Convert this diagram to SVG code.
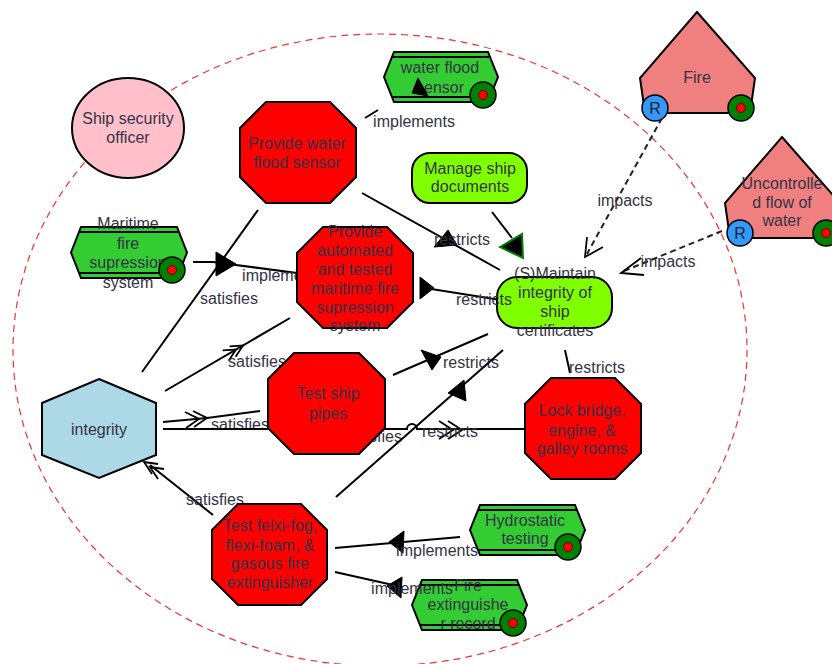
<svg xmlns="http://www.w3.org/2000/svg" width="832" height="664" viewBox="0 0 832 664">
<style>
text{font-family:"Liberation Sans",Arial,sans-serif;font-size:16px;fill:#333344;text-anchor:middle}
.ln{stroke:#000;stroke-width:2;fill:none}
.dl{stroke:#222;stroke-width:2;fill:none;stroke-dasharray:6 4}
.ch{stroke:#000;stroke-width:1.8;fill:none}
.tri{fill:#000;stroke:#000;stroke-width:1}
.oct{fill:#FF0000;stroke:#000;stroke-width:2}
.grn{fill:#33CC33;stroke:#000;stroke-width:2}
.stp{stroke:#000;stroke-width:2}
.lgn{fill:#80FF00;stroke:#000;stroke-width:2}
.pent{fill:#F08080;stroke:#000;stroke-width:2}
.mo{fill:#008000;stroke:#000;stroke-width:1.5}
.mi{fill:#FF0000;stroke:#600;stroke-width:1}
.rb{fill:#3399FF;stroke:#000;stroke-width:1.5}
</style>
<rect width="832" height="664" fill="#fff"/>
<ellipse id="boundary" cx="380" cy="350" rx="367" ry="316" fill="none" stroke="#EE3333" stroke-width="1.2" stroke-dasharray="7 5"/>
<g id="connectors">
<!-- water flood sensor implements -->
<line class="ln" x1="365" y1="118" x2="378" y2="110"/>
<text x="414" y="127">implements</text>
<!-- satisfies integrity -> provide water flood sensor -->
<line class="ln" x1="142" y1="372" x2="258" y2="210"/>
<text x="229" y="304">satisfies</text>
<!-- satisfies integrity -> provide automated -->
<line class="ln" x1="165" y1="391" x2="290" y2="318"/>
<path class="ch" d="M235.6,356.7 L243,345.5 L229.6,346.3 M228.7,360.7 L236,349.5 L222.7,350.3"/>
<text x="257" y="367">satisfies</text>
<!-- satisfies integrity -> test ship pipes -->
<polyline class="ln" points="163,422 207,418 260,411"/>
<path class="ch" d="M193,411 L207,418 L194,427 M185,412 L199,419 L186,428"/>
<text x="240" y="430">satisfies</text>
<!-- integrity -> lock bridge -->
<path class="ln" d="M163,429 L407,429 A5,5 0 0 1 417,429 L525,429"/>
<path class="ch" d="M448,421 L462,430 L448,439 M439,421 L453,430 L439,439"/>
<text x="373" y="442">satisfies</text>
<text x="450" y="437">restricts</text>
<!-- satisfies integrity -> test felxi-fog -->
<line class="ln" x1="150" y1="465" x2="213" y2="515"/>
<path class="ch" d="M152,474 L144,462 L158,464 M158,479 L150,467 L164,469"/>
<text x="215" y="505">satisfies</text>
<!-- restricts maintain -> provide water flood sensor -->
<line class="ln" x1="362" y1="193" x2="500" y2="270"/>
<polygon class="tri" points="434,247 448,230 457,245"/>
<text x="462" y="245">restricts</text>
<!-- manage -> maintain -->
<line class="ln" x1="492" y1="212" x2="512" y2="238"/>
<polygon points="500,247 522,234 523,258" fill="#000" stroke="#008000" stroke-width="2"/>
<!-- restricts maintain -> provide automated -->
<line class="ln" x1="513" y1="302" x2="425" y2="288"/>
<polygon class="tri" points="420,277 434,288 420,299"/>
<!-- restricts test ship pipes -> maintain -->
<line class="ln" x1="393" y1="375" x2="488" y2="334"/>
<polygon class="tri" points="421,350 441,357 432,370"/>
<text x="471" y="368">restricts</text>
<!-- test felxi-fog -> maintain -->
<line class="ln" x1="336" y1="497" x2="503" y2="350"/>
<polygon class="tri" points="448,393 464,380 466,401"/>
<!-- maintain -> lock bridge -->
<line class="ln" x1="565" y1="350" x2="570" y2="373"/>
<text x="597" y="373">restricts</text>
<!-- impacts fire -->
<line class="dl" x1="662" y1="118" x2="587" y2="254"/>
<path class="ch" d="M587,237 L585,257 L603,247"/>
<text x="625" y="206">impacts</text>
<!-- impacts uncontrolled -->
<line class="dl" x1="722" y1="231" x2="624" y2="271"/>
<path class="ch" d="M641,258 L621,273 L644,275"/>
<text x="668" y="267">impacts</text>
<!-- maritime implements -->
<polyline class="ln" points="193,262 213,262 297,273"/>
<polygon class="tri" points="216,252 236,264 216,276"/>
<text x="283" y="281">implements</text>
<!-- hydrostatic implements -->
<line class="ln" x1="460" y1="537" x2="335" y2="548"/>
<polygon class="tri" points="389,542 404,531 403,553"/>
<text x="437" y="556">implements</text>
<!-- fire extinguisher record implements -->
<line class="ln" x1="335" y1="572" x2="393" y2="585"/>
<polygon class="tri" points="387,586 402,577 401,598"/>
</g>
<g id="n-officer">
<ellipse cx="128" cy="128" rx="56" ry="50" fill="#FFC0CB" stroke="#000" stroke-width="2"/>
<text x="128" y="124">Ship security</text>
<text x="128" y="143">officer</text>
</g>
<g id="n-provide-sensor">
<polygon class="oct" points="266,102 330,102 356,128 356,177 330,203 266,203 240,177 240,128"/>
<text x="297" y="149">Provide water</text>
<text x="297" y="168">flood sensor</text>
</g>
<g id="n-water-sensor">
<polygon class="grn" points="394,52 488,52 498,77 488,102 394,102 384,77"/>
<line class="stp" x1="392" y1="57" x2="490" y2="57"/>
<line class="stp" x1="392" y1="97" x2="490" y2="97"/>
<text x="440" y="73">water flood</text>
<text x="440" y="93">sensor</text>
<circle class="mo" cx="483" cy="95" r="13"/>
<circle class="mi" cx="483" cy="95" r="4.5"/>
</g>
<g id="n-fire">
<polygon class="pent" points="697,12 755,78 750,113 645,113 640,78"/>
<text x="697" y="83">Fire</text>
<circle class="rb" cx="655" cy="108" r="13"/>
<text x="655" y="114" style="fill:#222">R</text>
<circle class="mo" cx="741" cy="108" r="13"/>
<circle class="mi" cx="741" cy="108" r="4.5"/>
</g>
<g id="n-uncontrolled">
<polygon class="pent" points="782,137 840,203 835,238 730,238 725,203"/>
<text x="782" y="189">Uncontrolle</text>
<text x="782" y="208">d flow of</text>
<text x="782" y="226">water</text>
<circle class="rb" cx="740" cy="233" r="13"/>
<text x="740" y="239" style="fill:#222">R</text>
<circle class="mo" cx="826" cy="233" r="13"/>
<circle class="mi" cx="826" cy="233" r="4.5"/>
</g>
<g id="n-manage">
<rect class="lgn" x="412" y="153" width="115" height="50" rx="18"/>
<text x="470" y="174">Manage ship</text>
<text x="470" y="192">documents</text>
</g>
<g id="n-maritime">
<polygon class="grn" points="81,227 177,227 187,252.5 177,278 81,278 71,252.5"/>
<line class="stp" x1="79" y1="232" x2="179" y2="232"/>
<line class="stp" x1="79" y1="273" x2="179" y2="273"/>
<text x="128" y="229">Maritime</text>
<text x="128" y="249">fire</text>
<text x="128" y="268">supression</text>
<text x="128" y="288">system</text>
<circle class="mo" cx="172" cy="270" r="13"/>
<circle class="mi" cx="172" cy="270" r="4.5"/>
</g>
<g id="n-provide-automated">
<polygon class="oct" points="323,227 387,227 413,253 413,302 387,328 323,328 297,302 297,253"/>
<text x="355" y="237">Provide</text>
<text x="355" y="256">automated</text>
<text x="355" y="275">and tested</text>
<text x="355" y="294">maritime fire</text>
<text x="355" y="313">supression</text>
<text x="355" y="331">system</text>
</g>
<g id="n-maintain">
<rect class="lgn" x="497" y="277" width="115" height="51" rx="20"/>
<text x="555" y="279">(S)Maintain</text>
<text x="555" y="298">integrity of</text>
<text x="555" y="317">ship</text>
<text x="555" y="336">certificates</text>
</g>
<g id="n-integrity">
<polygon points="99,379 156,403 156,455 99,478 42,455 42,403" fill="#ADD8E6" stroke="#000" stroke-width="2"/>
<text x="99" y="435">integrity</text>
</g>
<g id="n-test-pipes">
<polygon class="oct" points="294,353 359,353 385,379 385,428 359,454 294,454 268,428 268,379"/>
<text x="328" y="399">Test ship</text>
<text x="328" y="419">pipes</text>
</g>
<g id="n-lock">
<polygon class="oct" points="551,378 615,378 641,404 641,453 615,479 551,479 525,453 525,404"/>
<text x="582" y="416">Lock bridge,</text>
<text x="582" y="436">engine, &amp;</text>
<text x="582" y="454">galley rooms</text>
</g>
<g id="n-test-fog">
<polygon class="oct" points="238,504 301,504 327,530 327,579 301,605 238,605 212,579 212,530"/>
<text x="270" y="531">Test felxi-fog,</text>
<text x="270" y="551">flexi-foam, &amp;</text>
<text x="270" y="569">gasous fire</text>
<text x="270" y="588">extinguisher</text>
</g>
<g id="n-hydrostatic">
<polygon class="grn" points="480,505 575,505 585,530 575,555 480,555 470,530"/>
<line class="stp" x1="478" y1="510" x2="577" y2="510"/>
<line class="stp" x1="478" y1="550" x2="577" y2="550"/>
<text x="525" y="526">Hydrostatic</text>
<text x="525" y="544">testing</text>
<circle class="mo" cx="568" cy="547" r="13"/>
<circle class="mi" cx="568" cy="547" r="4.5"/>
</g>
<g id="n-fire-ext">
<polygon class="grn" points="422,580 517,580 527,605 517,630 422,630 412,605"/>
<line class="stp" x1="420" y1="585" x2="519" y2="585"/>
<line class="stp" x1="420" y1="625" x2="519" y2="625"/>
<text x="468" y="591">Fire</text>
<text x="468" y="610">extinguishe</text>
<text x="468" y="629">r record</text>
<circle class="mo" cx="513" cy="623" r="13"/>
<circle class="mi" cx="513" cy="623" r="4.5"/>
</g>
<g id="connector-overlay">
<polygon class="tri" points="418,78 412,93 428,96"/>
<text x="484" y="305">restricts</text>
<text x="412" y="594">implements</text>
</g>
</svg>
